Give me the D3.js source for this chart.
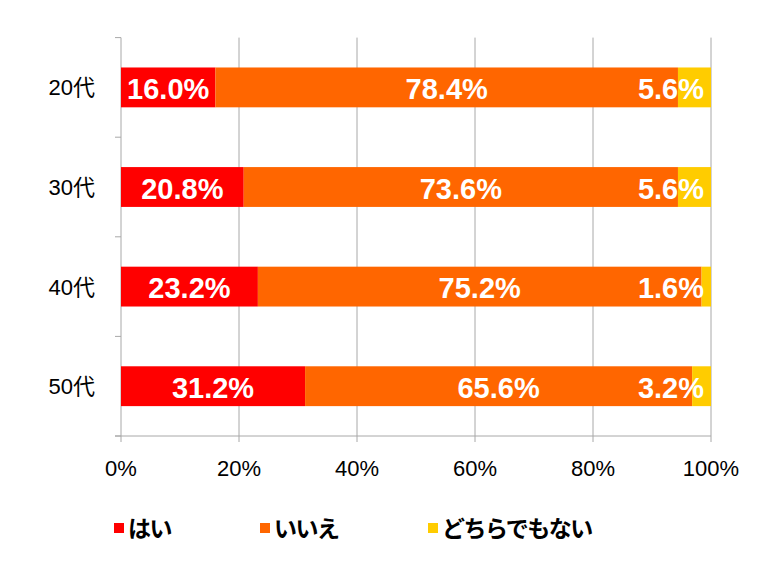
<!DOCTYPE html>
<html>
<head>
<meta charset="utf-8">
<script src="https://cdn.jsdelivr.net/npm/d3@7"></script>
<style>
  html, body { margin: 0; padding: 0; background: #fff; }
  svg { display: block; }
</style>
</head>
<body>
<svg id="chart" width="768" height="569"></svg>
<script>
const categories = ["20代", "30代", "40代", "50代"];
const seriesNames = ["はい", "いいえ", "どちらでもない"];
const yesValues = [16.0, 20.8, 23.2, 31.2];
const noValues = [78.4, 73.6, 75.2, 65.6];
const neitherValues = [5.6, 5.6, 1.6, 3.2];
const xTickValues = [0, 20, 40, 60, 80, 100];
const colors = ["#ff0000", "#ff6600", "#ffcc00"];

const svg = d3.select("#chart");

const x = d3.scaleLinear().domain([0, 100]).range([121, 711]);
const y = d3.scaleBand().domain(categories).range([37.6, 436]).paddingInner(0.6).paddingOuter(0.3);
const yOuter = d3.scaleBand().domain(categories).range([37.6, 436]);

const gridColor = "#a8a8a8";

// vertical grid lines
svg.append("g").selectAll("line").data(xTickValues).join("line")
  .attr("x1", d => x(d)).attr("x2", d => x(d))
  .attr("y1", 37.6).attr("y2", 442)
  .attr("stroke", gridColor).attr("stroke-width", 1);

// y axis ticks at band boundaries
const boundaries = categories.map(c => yOuter(c)).concat([436]);
svg.append("g").selectAll("line").data(boundaries).join("line")
  .attr("x1", 115).attr("x2", x(0))
  .attr("y1", d => d).attr("y2", d => d)
  .attr("stroke", gridColor).attr("stroke-width", 1);

// x axis line
svg.append("line").attr("x1", 115).attr("x2", x(100))
  .attr("y1", 436).attr("y2", 436)
  .attr("stroke", gridColor).attr("stroke-width", 1);

// stacked data
const rows = categories.map((c, i) => ({ cat: c, vals: [yesValues[i], noValues[i], neitherValues[i]] }));
const segs = [];
rows.forEach(r => {
  let acc = 0;
  r.vals.forEach((v, j) => {
    segs.push({ cat: r.cat, j, v, x0: acc, x1: acc + v });
    acc += v;
  });
});

svg.append("g").selectAll("rect").data(segs).join("rect")
  .attr("x", d => x(d.x0))
  .attr("width", d => x(d.x1) - x(d.x0))
  .attr("y", d => y(d.cat))
  .attr("height", y.bandwidth())
  .attr("fill", d => colors[d.j]);

// labels
svg.append("g").selectAll("text").data(segs).join("text")
  .attr("y", d => y(d.cat) + y.bandwidth() / 2 + 11.5)
  .attr("x", d => d.j === 2 ? x(100) - 7 : (x(d.x0) + x(d.x1)) / 2)
  .attr("text-anchor", d => d.j === 2 ? "end" : "middle")
  .attr("font-family", "'Liberation Sans', Arial, Helvetica, sans-serif")
  .attr("font-weight", "bold")
  .attr("font-size", 29)
  .attr("fill", "#fff")
  .text(d => d.v.toFixed(1) + "%");

// category labels
svg.append("g").selectAll("text").data(categories).join("text")
  .attr("x", 95)
  .attr("y", d => y(d) + y.bandwidth() / 2)
  .attr("dy", "0.36em")
  .attr("text-anchor", "end")
  .attr("font-family", "'Liberation Sans', 'Noto Sans CJK JP', sans-serif")
  .attr("font-size", 22)
  .attr("fill", "#000")
  .text(d => d);

// x tick labels
svg.append("g").selectAll("text").data(xTickValues).join("text")
  .attr("x", d => x(d))
  .attr("y", 476)
  .attr("text-anchor", "middle")
  .attr("font-family", "'Liberation Sans', Arial, Helvetica, sans-serif")
  .attr("font-size", 22)
  .attr("fill", "#000")
  .text(d => d + "%");

// legend
const legendX = [114, 260, 428];
const legend = svg.append("g").selectAll("g").data(seriesNames).join("g")
  .attr("transform", (d, i) => `translate(${legendX[i]},523)`);
legend.append("rect").attr("width", 10).attr("height", 10)
  .attr("fill", (d, i) => colors[i]);
legend.append("text")
  .attr("x", 14).attr("y", 6).attr("dy", "0.36em")
  .attr("font-family", "'Noto Sans CJK JP', sans-serif")
  .attr("font-weight", "bold")
  .attr("font-size", 23)
  .style("letter-spacing", "-1.5px")
  .attr("fill", "#000")
  .text(d => d);
</script>
</body>
</html>
